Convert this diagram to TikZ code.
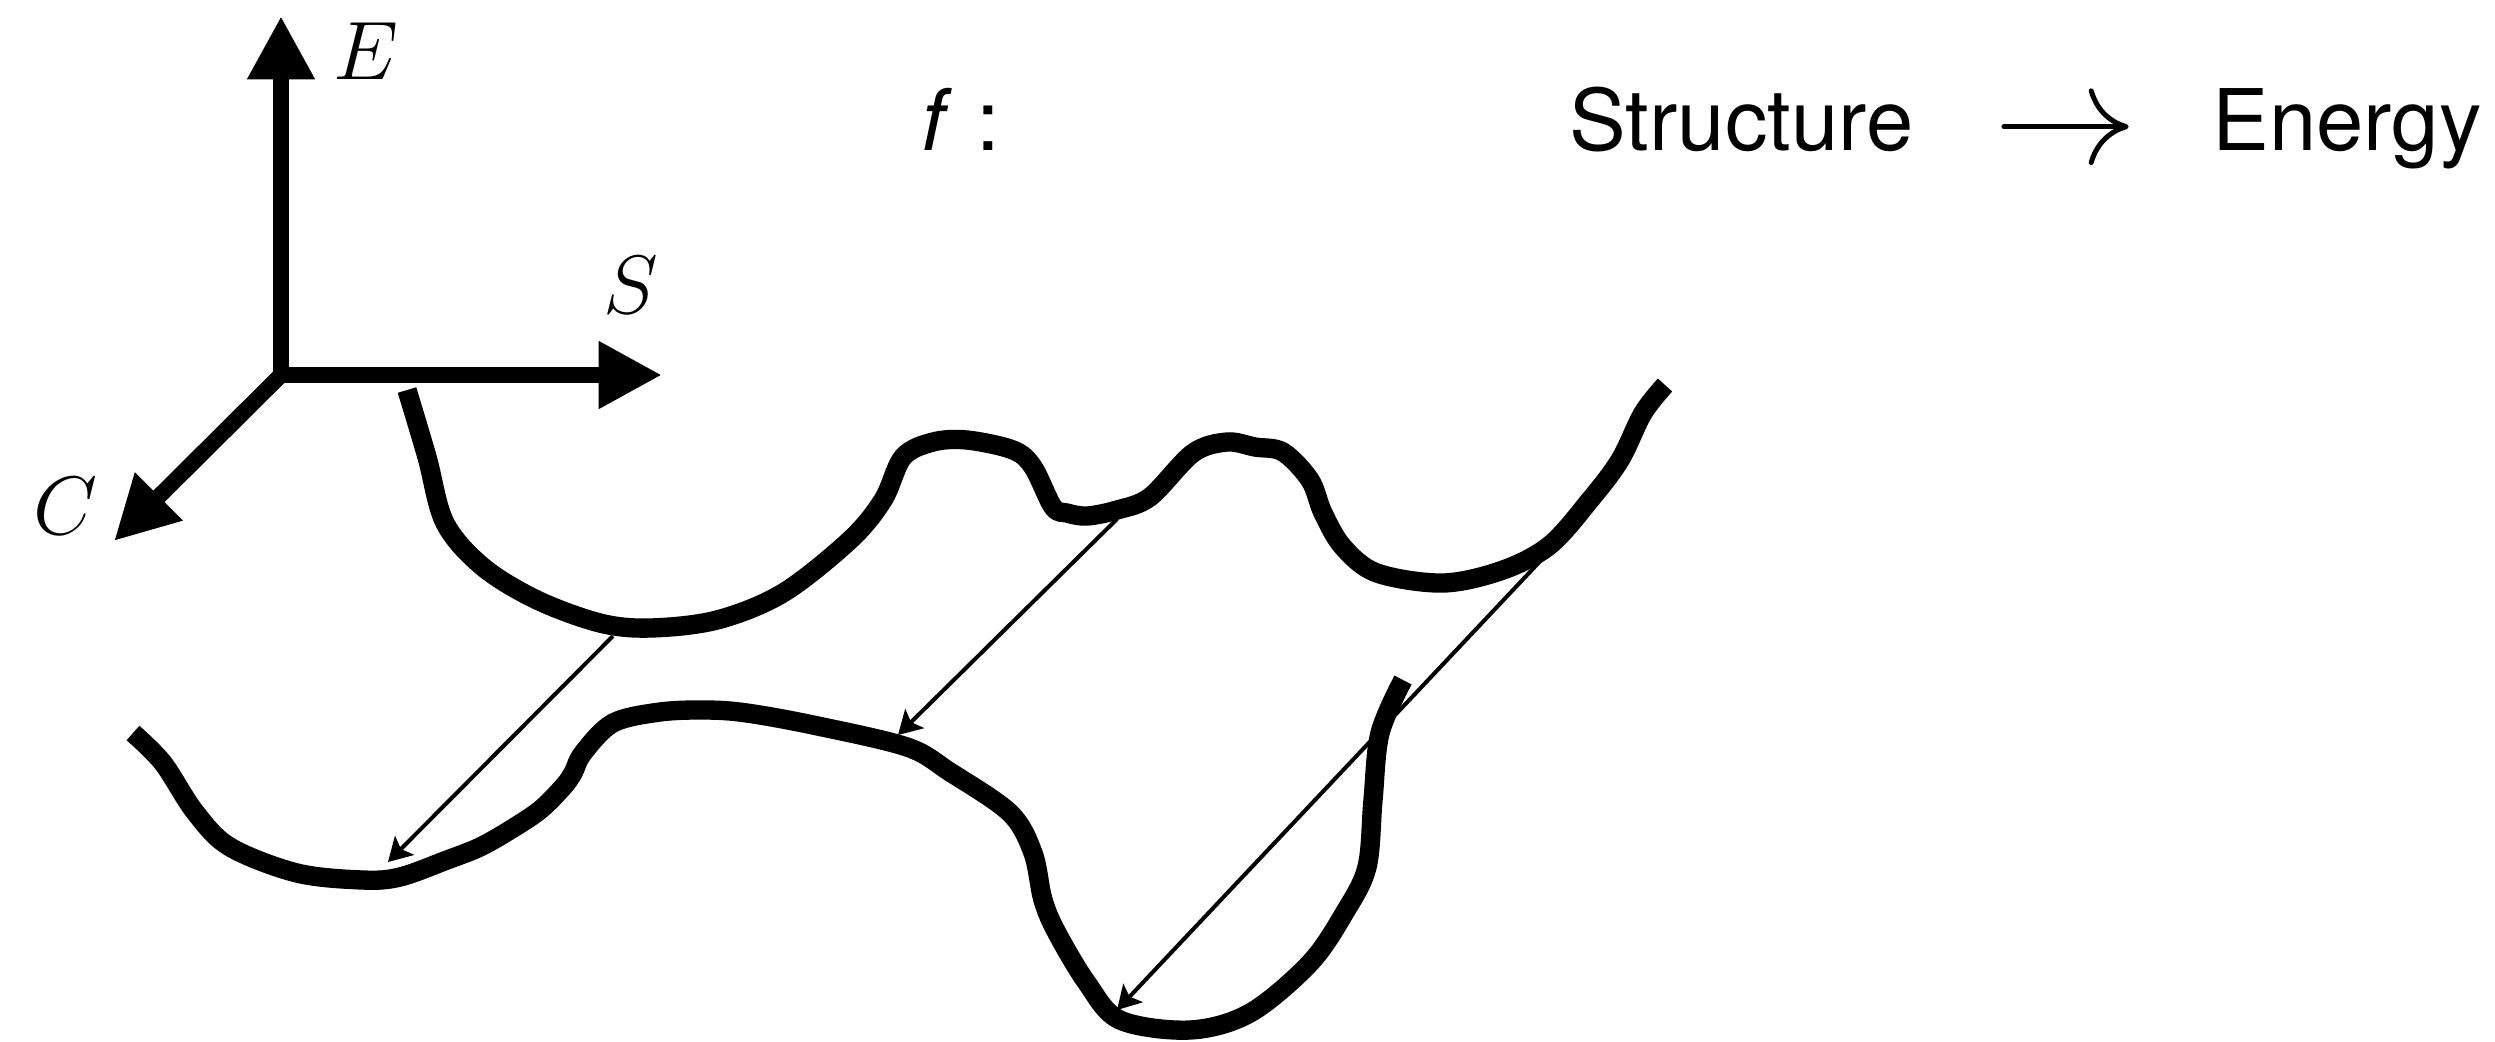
\documentclass[tikz,border=0pt]{standalone}
\usepackage{fontspec}
\setmainfont{TeX Gyre Heros}
\usetikzlibrary{arrows.meta}
\begin{document}
\begin{tikzpicture}[x=0.3pt,y=-0.3pt,
  axis/.style={line width=4.8pt, -{Triangle[length=19pt,width=19pt]}},
  curve/.style={line width=5.8pt, line join=round},
  map/.style={line width=1.2pt, -{Stealth[length=7pt,width=8pt,inset=1.5pt]}},
  mlabel/.style={inner sep=0pt, font=\fontsize{28.8}{30}\selectfont},
  txt/.style={inner sep=0pt, font=\fontsize{25.5}{28}\selectfont, anchor=base west},
  tarrow/.style={line width=1.5pt, line cap=round, -{Computer Modern Rightarrow[length=12pt,width=23pt]}}]
\useasboundingbox (0,0) rectangle (2495,1041);
% axes
\coordinate (O) at (281,375);
\coordinate (Etip) at (281,16);
\coordinate (Stip) at (662,375);
\coordinate (Ctip) at (114,541);
\draw[axis] (O) -- (Etip);
\draw[axis] (O) -- (Stip);
\draw[axis] (O) -- (Ctip);
\node[mlabel, anchor=south west] (E) at (333,80) {$E$};
\node[mlabel] (S) at (631,285) {$S$};
\node[mlabel] (C) at (66,506) {$C$};
% formula
\node[txt] (f) at (921,150) {\textit{f} :};
\node[txt] (struct) at (1569,150) {Structure};
\node[txt] (energy) at (2212,150) {Energy};
\draw[tarrow] ([xshift=27pt,yshift=7pt]struct.base east) -- ([xshift=-25pt,yshift=7pt]energy.base west);
% upper curve
\draw[curve] plot[smooth, tension=0.55] coordinates {
(407,390) (427,457) (445,523) (483,567) (537,600) (600,623) (650,628)
(717,620) (783,593) (850,540) (883,500) (903,457) (933,442) (967,440)
(1013,450) (1033,467) (1053,507) (1067,513) (1087,516) (1117,510)
(1150,497) (1193,453) (1227,442) (1255,447) (1283,452) (1310,480) (1323,513)
(1343,547) (1377,573) (1443,583) (1503,570) (1550,545) (1590,500)
(1620,460) (1643,413) (1665,385)};
% lower curve
\draw[curve] plot[smooth, tension=0.55] coordinates {
(133,733) (163,763) (195,812) (230,847) (297,873) (363,880) (400,877)
(447,860) (480,847) (510,830) (540,810) (563,787) (573,773) (583,753)
(613,723) (660,712) (707,710) (747,713) (813,725) (907,747) (950,772)
(1010,813) (1033,853) (1043,900) (1057,933) (1087,983) (1120,1020)
(1190,1030) (1250,1013) (1310,963) (1345,912) (1367,867) (1373,800)
(1380,733) (1403,680)};
% mapping arrows
\coordinate (u1) at (613,636);
\coordinate (l1) at (388,862);
\coordinate (u2) at (1117,519);
\coordinate (l2) at (898,735);
\coordinate (u3) at (1545,556);
\coordinate (l3) at (1117,1010);
\draw[map] (u1) -- (l1);
\draw[map] (u2) -- (l2);
\draw[map] (u3) -- (l3);
\end{tikzpicture}
\end{document}
